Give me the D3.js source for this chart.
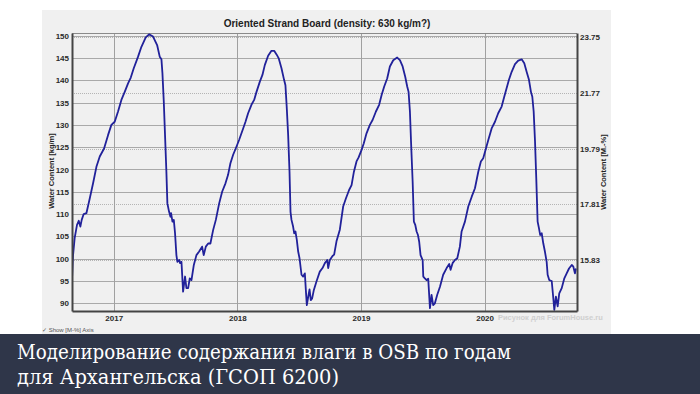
<!DOCTYPE html>
<html>
<head>
<meta charset="utf-8">
<script src="https://cdn.jsdelivr.net/npm/d3@7"></script>
<style>
  html, body { margin: 0; padding: 0; background: #fff; }
  svg { display: block; }
</style>
</head>
<body>
<svg id="graph"></svg>
<script>
// time in decimal years, water content in kg/m3
const years = [
  2016.663, 2016.671, 2016.684, 2016.703, 2016.717, 2016.730, 2016.741, 2016.757, 2016.779, 2016.806,
  2016.833, 2016.860, 2016.887, 2016.922, 2016.954, 2016.981, 2017.008, 2017.035, 2017.062, 2017.089,
  2017.116, 2017.138, 2017.162, 2017.197, 2017.224, 2017.259, 2017.286, 2017.318, 2017.351, 2017.372,
  2017.386, 2017.394, 2017.405, 2017.415, 2017.426, 2017.434, 2017.448, 2017.459, 2017.464, 2017.475,
  2017.486, 2017.496, 2017.507, 2017.515, 2017.529, 2017.537, 2017.548, 2017.561, 2017.577, 2017.588,
  2017.602, 2017.615, 2017.629, 2017.648, 2017.669, 2017.691, 2017.715, 2017.728, 2017.745, 2017.764,
  2017.782, 2017.804, 2017.826, 2017.853, 2017.877, 2017.904, 2017.925, 2017.944, 2017.966, 2017.987,
  2018.014, 2018.047, 2018.066, 2018.087, 2018.114, 2018.136, 2018.155, 2018.182, 2018.203, 2018.222,
  2018.249, 2018.276, 2018.298, 2018.317, 2018.335, 2018.357, 2018.378, 2018.389, 2018.400, 2018.411,
  2018.422, 2018.430, 2018.438, 2018.451, 2018.460, 2018.470, 2018.481, 2018.492, 2018.503, 2018.519,
  2018.532, 2018.546, 2018.554, 2018.562, 2018.576, 2018.584, 2018.594, 2018.605, 2018.619, 2018.640,
  2018.667, 2018.689, 2018.708, 2018.727, 2018.735, 2018.748, 2018.770, 2018.783, 2018.802, 2018.829,
  2018.856, 2018.878, 2018.904, 2018.924, 2018.943, 2018.964, 2018.981, 2019.005, 2019.023, 2019.045,
  2019.072, 2019.094, 2019.121, 2019.147, 2019.167, 2019.188, 2019.212, 2019.234, 2019.261, 2019.293,
  2019.315, 2019.337, 2019.358, 2019.374, 2019.385, 2019.396, 2019.406, 2019.418, 2019.428, 2019.439,
  2019.450, 2019.461, 2019.471, 2019.482, 2019.499, 2019.504, 2019.517, 2019.531, 2019.544, 2019.558,
  2019.571, 2019.584, 2019.598, 2019.617, 2019.639, 2019.665, 2019.693, 2019.714, 2019.725, 2019.741,
  2019.760, 2019.779, 2019.800, 2019.814, 2019.841, 2019.868, 2019.896, 2019.922, 2019.949, 2019.970,
  2019.989, 2020.008, 2020.030, 2020.057, 2020.084, 2020.110, 2020.138, 2020.159, 2020.178, 2020.197,
  2020.219, 2020.246, 2020.272, 2020.300, 2020.321, 2020.340, 2020.359, 2020.375, 2020.386, 2020.397,
  2020.408, 2020.418, 2020.429, 2020.440, 2020.450, 2020.462, 2020.475, 2020.488, 2020.502, 2020.510,
  2020.523, 2020.543, 2020.556, 2020.564, 2020.577, 2020.591, 2020.604, 2020.624, 2020.645, 2020.664,
  2020.683, 2020.705, 2020.718, 2020.731, 2020.739
];
const water = [
  95.6, 100.8, 104.6, 107.6, 108.5, 107.2, 108.7, 110.0, 110.2, 113.5,
  116.9, 120.6, 122.9, 124.7, 127.7, 130.0, 130.7, 133.0, 135.6, 137.4,
  139.3, 140.6, 142.7, 145.3, 147.5, 149.6, 150.3, 149.8, 147.9, 145.3,
  144.7, 141.6, 135.2, 127.7, 119.5, 112.4, 110.5, 109.4, 110.2, 108.3,
  108.7, 105.7, 100.8, 99.3, 99.7, 99.0, 99.3, 92.6, 96.0, 93.4,
  93.4, 95.6, 95.2, 98.6, 100.8, 101.6, 102.7, 100.8, 102.7, 103.4,
  103.4, 106.4, 108.7, 112.4, 115.0, 116.9, 118.8, 121.4, 123.3, 124.7,
  126.6, 129.2, 130.7, 132.6, 134.5, 135.6, 137.4, 139.7, 141.2, 143.4,
  145.5, 146.6, 146.6, 145.8, 144.9, 142.7, 140.1, 138.9, 133.7, 127.7,
  119.5, 110.5, 108.7, 107.2, 105.7, 106.1, 104.2, 101.6, 100.1, 96.4,
  96.0, 96.7, 93.0, 89.6, 91.9, 93.1, 90.7, 91.1, 93.0, 94.9,
  97.1, 97.9, 99.0, 99.7, 97.9, 99.7, 100.6, 100.9, 103.9, 106.5,
  111.7, 113.5, 115.4, 116.5, 119.5, 121.8, 122.7, 124.4, 125.9, 128.1,
  130.0, 131.1, 133.0, 134.5, 136.7, 138.6, 140.4, 143.1, 144.5, 145.1,
  144.5, 143.1, 140.8, 138.6, 137.4, 133.0, 125.5, 117.3, 108.3, 107.6,
  106.1, 105.3, 103.8, 100.8, 99.7, 96.0, 95.6, 95.2, 95.5, 88.9,
  91.9, 89.6, 90.0, 91.9, 93.7, 96.4, 97.9, 98.8, 97.5, 99.0,
  99.7, 100.1, 102.7, 106.1, 108.3, 111.7, 113.9, 115.8, 119.5, 121.8,
  122.5, 124.4, 126.6, 129.2, 130.7, 132.6, 134.1, 136.3, 138.2, 140.1,
  141.9, 143.6, 144.4, 144.7, 143.8, 141.9, 140.1, 137.4, 136.3, 133.0,
  126.2, 118.0, 108.3, 106.8, 105.3, 105.7, 103.4, 101.6, 99.3, 96.4,
  95.2, 95.0, 91.1, 88.5, 91.5, 89.3, 92.2, 93.4, 95.6, 96.7,
  97.8, 98.6, 98.2, 96.7, 97.8
];
const yearTicks = [2017, 2018, 2019, 2020];
const leftTicks = [90, 95, 100, 105, 110, 115, 120, 125, 130, 135, 140, 145, 150];
const rightTicks = [15.83, 17.81, 19.79, 21.77, 23.75];
const density = 630;

const title = "Oriented Strand Board (density: 630 kg/m?)";
const leftTitle = "Water Content [kg/m]";
const rightTitle = "Water Content [M.-%]";
const captionLines = ["Моделирование содержания влаги в OSB по годам", "для Архангельска (ГСОП 6200)"];
const captionWidths = [494, 322];

const W = 700, H = 394;
const plot = {left: 72, right: 577, top: 33, bottom: 311};

const svg = d3.select("#graph").attr("width", W).attr("height", H);

// grey window panel
svg.append("rect").attr("x", 42).attr("y", 10).attr("width", 569).attr("height", 324).attr("fill", "#f0f0f0");

const x = d3.scaleLinear().domain([2016.6625, 2020.7475]).range([plot.left, plot.right]);
const y = d3.scaleLinear().domain([88.27, 150.6]).range([plot.bottom, plot.top]);
const yRight = d3.scaleLinear().domain(y.domain().map(v => v * 100 / density)).range(y.range());

// grid
const grid = svg.append("g");
grid.selectAll(".hgrid").data(leftTicks).enter().append("line")
  .attr("x1", plot.left).attr("x2", plot.right)
  .attr("y1", d => Math.round(y(d)) + 0.5).attr("y2", d => Math.round(y(d)) + 0.5)
  .attr("stroke", "#a9a9a9").attr("stroke-width", 1);
grid.selectAll(".rgrid").data(rightTicks).enter().append("line")
  .attr("x1", plot.left).attr("x2", plot.right)
  .attr("y1", d => Math.round(yRight(d)) + 0.5).attr("y2", d => Math.round(yRight(d)) + 0.5)
  .attr("stroke", "#b4b4b4").attr("stroke-width", 1).attr("stroke-dasharray", "1,1");
grid.selectAll(".vgrid").data(yearTicks).enter().append("line")
  .attr("x1", d => Math.round(x(d)) + 0.5).attr("x2", d => Math.round(x(d)) + 0.5)
  .attr("y1", plot.top).attr("y2", plot.bottom)
  .attr("stroke", "#a0a0a0").attr("stroke-width", 1);

// top border
svg.append("line").attr("x1", plot.left).attr("x2", plot.right).attr("y1", plot.top + 0.5).attr("y2", plot.top + 0.5)
  .attr("stroke", "#8a8a8a");

// curve
svg.append("clipPath").attr("id", "clip").append("rect")
  .attr("x", plot.left).attr("y", plot.top).attr("width", plot.right - plot.left).attr("height", plot.bottom - plot.top);

const points = years.map((t, i) => [t, water[i]]);
const line = d3.line().x(d => x(d[0])).y(d => y(d[1]));
svg.append("path").datum(points)
  .attr("clip-path", "url(#clip)")
  .attr("d", line)
  .attr("fill", "none")
  .attr("stroke", "#21219a")
  .attr("stroke-width", 1.8)
  .attr("stroke-linejoin", "round");

// axes
const tickFont = g => g.selectAll("text")
  .style("font-family", "Liberation Sans, Arial, sans-serif")
  .style("font-size", "8px").style("font-weight", "bold").attr("fill", "#2a2a2a");

svg.append("g").attr("transform", `translate(${plot.left},0)`)
  .call(d3.axisLeft(y).tickValues(leftTicks).tickSize(0).tickPadding(3))
  .call(g => g.select(".domain").attr("stroke", "#444").attr("stroke-width", 2))
  .call(tickFont);

svg.append("g").attr("transform", `translate(${plot.right},0)`)
  .call(d3.axisRight(yRight).tickValues(rightTicks).tickSize(0).tickPadding(3).tickFormat(d3.format(".2f")))
  .call(g => g.select(".domain").attr("stroke", "#444").attr("stroke-width", 2))
  .call(tickFont);

svg.append("g").attr("transform", `translate(0,${plot.bottom})`)
  .call(d3.axisBottom(x).tickValues(yearTicks).tickSize(0).tickPadding(4).tickFormat(d3.format("d")))
  .call(g => g.select(".domain").attr("stroke", "#444").attr("stroke-width", 2))
  .call(tickFont);

// titles
svg.append("text").attr("x", 327).attr("y", 27).attr("text-anchor", "middle")
  .style("font-family", "Liberation Sans, Arial, sans-serif").style("font-size", "10px").style("font-weight", "bold")
  .attr("fill", "#222").text(title);

svg.append("text").attr("transform", "translate(54,171) rotate(-90)").attr("text-anchor", "middle")
  .style("font-family", "Liberation Sans, Arial, sans-serif").style("font-size", "7.5px").style("font-weight", "bold")
  .attr("fill", "#222").text(leftTitle);

svg.append("text").attr("transform", "translate(606,172) rotate(-90)").attr("text-anchor", "middle")
  .style("font-family", "Liberation Sans, Arial, sans-serif").style("font-size", "7.5px").style("font-weight", "bold")
  .attr("fill", "#222").text(rightTitle);

// watermark
svg.append("text").attr("x", 498).attr("y", 320)
  .style("font-family", "Liberation Sans, Arial, sans-serif").style("font-size", "7.5px").style("font-weight", "bold")
  .attr("fill", "#cfcfcf").text("Рисунок для ForumHouse.ru");

// checkbox text
svg.append("text").attr("x", 42).attr("y", 332)
  .style("font-family", "Liberation Sans, Arial, sans-serif").style("font-size", "6px")
  .attr("fill", "#555").text("✓ Show [M-%] Axis");

// caption banner
svg.append("rect").attr("x", 0).attr("y", 334).attr("width", W).attr("height", H - 334).attr("fill", "#2f3649");
svg.selectAll(".caption").data(captionLines).enter().append("text")
  .attr("x", 17).attr("y", (d, i) => 359 + i * 25)
  .attr("textLength", (d, i) => captionWidths[i])
  .attr("lengthAdjust", "spacingAndGlyphs")
  .style("font-family", "DejaVu Serif, serif").style("font-size", "21px")
  .attr("fill", "#ffffff").text(d => d);
</script>
</body>
</html>
